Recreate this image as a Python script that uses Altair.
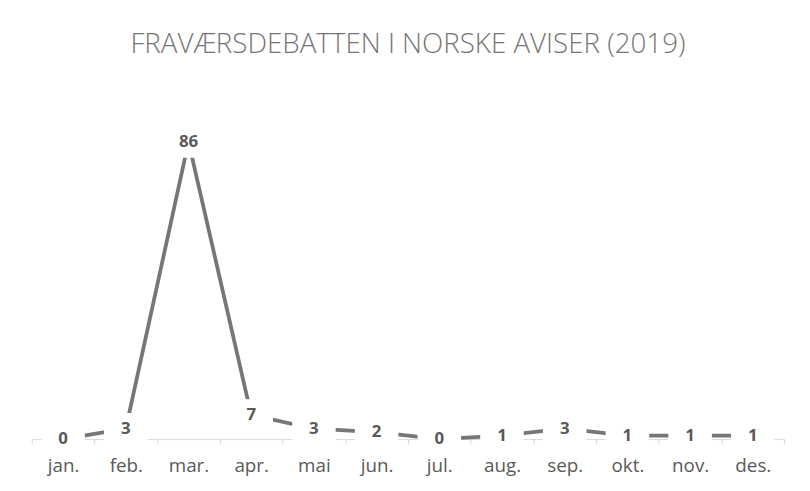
import altair as alt
import pandas as pd

months = ["jan.", "feb.", "mar.", "apr.", "mai", "jun.", "jul.", "aug.", "sep.", "okt.", "nov.", "des."]
values = [0, 3, 86, 7, 3, 2, 0, 1, 3, 1, 1, 1]

df = pd.DataFrame({"month": months, "value": values})

FONT = "Open Sans"
x = alt.X(
    "month:N",
    sort=months,
    scale=alt.Scale(type="band", paddingInner=0, paddingOuter=0),
    axis=alt.Axis(
        title=None,
        labelAngle=0,
        labelFont=FONT,
        labelFontSize=19,
        labelColor="#595959",
        labelPadding=13,
        domainColor="#d9d9d9",
        domainWidth=1,
        tickColor="#d9d9d9",
        tickSize=5,
        tickBand="extent",
        grid=False,
    ),
)
y = alt.Y("value:Q", scale=alt.Scale(domain=[0, 100]), axis=None)

base = alt.Chart(df).encode(x=x, y=y)

line = base.mark_line(color="#767676", strokeWidth=3.8, strokeCap="butt")
boxes = base.mark_point(
    shape="M-1,-0.72H1V0.72H-1Z",
    size=1936,
    filled=True,
    color="white",
    opacity=1,
    strokeWidth=0,
)
labels = base.mark_text(
    font=FONT, fontSize=17, fontWeight="bold", color="#595959", baseline="middle"
).encode(text="value:Q")

chart = (
    alt.layer(line, boxes, labels)
    .properties(
        width=760,
        height=349,
        view=alt.ViewBackground(stroke="transparent", strokeWidth=0, strokeOpacity=0),
        autosize=alt.AutoSizeParams(type="none"),
        padding={"left": 24, "top": 84, "right": 18, "bottom": 50},
        title=alt.TitleParams(
            "FRAVÆRSDEBATTEN I NORSKE AVISER (2019)",
            font=FONT,
            fontSize=28,
            fontWeight=300,
            color="#767676",
            anchor="middle",
            baseline="bottom",
            offset=7,
        ),
    )
    .configure_view(stroke="transparent", strokeWidth=0, strokeOpacity=0)
    .configure_axis(grid=False)
    .configure(background="white")
)

chart.save("out.html", embed_options={"renderer": "svg", "actions": False})
